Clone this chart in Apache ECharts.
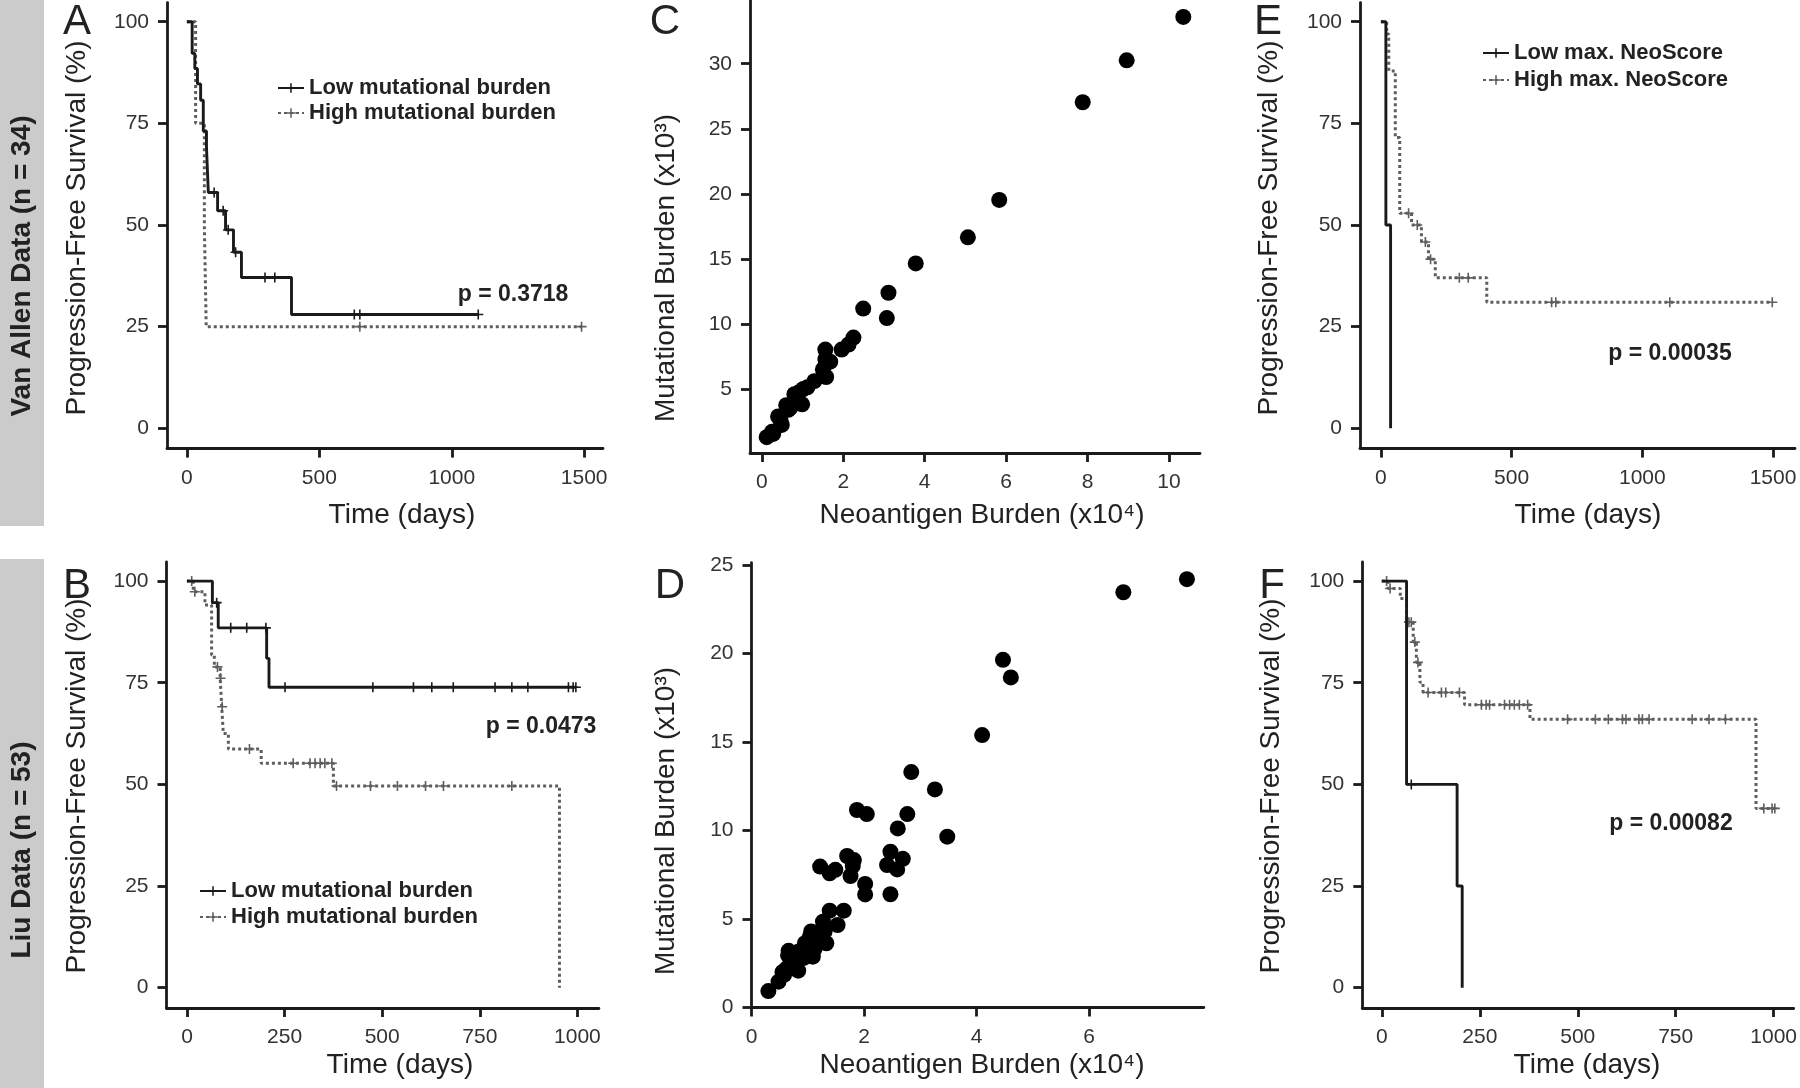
<!DOCTYPE html>
<html><head><meta charset="utf-8">
<script src="https://cdn.jsdelivr.net/npm/echarts@6/dist/echarts.min.js"></script>
<style>html,body{margin:0;padding:0;background:#fff}#c{width:1800px;height:1088px}</style>
</head><body><div id="c"></div>
<script>
// ---------- DATA ----------
// Panel A (Van Allen, mutational burden): KM steps [day, %] and censor marks
const A_low = [[0,100],[20,92.2],[30,88.5],[40,84.7],[52,80.7],[62,73.1],[74,69.3],[81,58.0],[116,53.5],[146,48.8],[176,43.3],[206,37.1],[395,28.0],[1100,28.0]];
const A_lowCens = [[103,58.0],[137,53.5],[156,48.8],[184,43.3],[295,37.1],[332,37.1],[632,28.0],[653,28.0],[1100,28.0]];
const A_high = [[0,100],[33,75],[66,50],[73,25],[1490,25]];
const A_highCens = [[653,25],[1490,25]];
// Panel B (Liu, mutational burden)
const B_low = [[0,100],[65,94.7],[80,88.5],[204,81.0],[210,73.9],[996,73.9]];
const B_lowCens = [[76,94.7],[112,88.5],[153,88.5],[202,88.5],[251,73.9],[476,73.9],[580,73.9],[627,73.9],[682,73.9],[789,73.9],[832,73.9],[873,73.9],[977,73.9],[989,73.9],[996,73.9]];
const B_high = [[0,100],[16,97.4],[46,94.1],[63,81.8],[70,78.9],[85,76.1],[89,69.1],[93,62.5],[106,58.7],[190,55.2],[375,49.6],[954,0]];
const B_highCens = [[12,100],[20,97.4],[78,78.9],[86,76.1],[90,69.1],[160,58.7],[272,55.2],[315,55.2],[328,55.2],[341,55.2],[353,55.2],[371,55.2],[383,49.6],[470,49.6],[539,49.6],[611,49.6],[657,49.6],[832,49.6]];
// Panel C (Van Allen): [neoantigen x10^4, mutational x10^3]
const C_points = [[0.12,1.30],[0.25,1.71],[0.28,1.55],[0.40,2.89],[0.49,2.24],[0.46,2.55],[0.60,3.75],[0.65,3.40],[0.70,3.55],[0.80,4.60],[0.86,4.08],[0.99,3.82],[0.91,4.74],[1.02,5.00],[1.12,5.13],[1.29,5.60],[1.50,6.50],[1.58,5.92],[1.58,6.97],[1.68,7.10],[1.56,7.30],[1.56,8.03],[1.96,8.03],[2.13,8.42],[2.25,8.95],[2.49,11.18],[3.07,10.45],[3.11,12.40],[3.78,14.65],[5.06,16.66],[5.83,19.53],[7.88,27.04],[8.96,30.26],[10.35,33.6]];
// Panel D (Liu)
const D_points = [[0.30,0.93],[0.48,1.46],[0.55,2.00],[0.58,1.85],[0.62,2.20],[0.83,2.08],[0.65,2.95],[0.66,3.20],[0.75,2.60],[0.83,3.15],[0.88,3.00],[0.95,3.63],[1.09,2.87],[0.93,2.80],[1.00,3.40],[1.12,3.30],[1.04,4.00],[1.06,4.30],[1.15,4.09],[1.18,3.90],[1.21,3.70],[1.33,3.63],[1.30,4.30],[1.27,4.85],[1.39,5.47],[1.53,4.66],[1.64,5.47],[1.22,7.96],[1.39,7.58],[1.49,7.78],[1.70,8.56],[1.82,8.33],[1.80,8.00],[1.76,7.43],[1.875,11.16],[2.05,10.93],[2.02,6.98],[2.02,6.39],[2.47,8.80],[2.41,8.05],[2.59,7.80],[2.69,8.40],[2.47,6.40],[2.60,10.12],[2.77,10.93],[3.48,9.65],[2.84,13.30],[3.26,12.32],[4.10,15.39],[4.47,19.64],[4.61,18.65],[6.61,23.46],[7.74,24.20]];
// Panel E (Van Allen, max NeoScore)
const E_low = [[0,100],[19,50],[37,0]];
const E_high = [[0,100],[22,97.0],[30,87.9],[55,71.5],[72,52.9],[117,50.0],[155,45.8],[182,41.6],[208,37.0],[405,31.0],[1497,31.0]];
const E_highCens = [[106,52.9],[139,50.0],[170,45.8],[190,41.6],[300,37.0],[334,37.0],[653,31.0],[669,31.0],[1105,31.0],[1497,31.0]];
// Panel F (Liu, max NeoScore)
const F_low = [[0,100],[63,50],[192,25],[205,0]];
const F_lowCens = [[75,50]];
const F_high = [[0,100],[16,98.2],[47,95.7],[63,89.9],[80,85.0],[88,80.0],[97,75.1],[105,72.6],[211,69.6],[378,66.0],[955,44.1],[1003,44.1]];
const F_highCens = [[12,100],[21,98.2],[69,89.9],[75,89.9],[84,85.0],[92,80.0],[118,72.6],[152,72.6],[163,72.6],[198,72.6],[254,69.6],[266,69.6],[275,69.6],[313,69.6],[326,69.6],[338,69.6],[351,69.6],[372,69.6],[474,66.0],[545,66.0],[578,66.0],[614,66.0],[623,66.0],[656,66.0],[665,66.0],[682,66.0],[792,66.0],[835,66.0],[877,66.0],[975,44.1],[996,44.1],[1003,44.1]];
// Tick labels
const ticksKM_Y = [0,25,50,75,100];
const ticksKM_X1500 = [0,500,1000,1500];
const ticksKM_X1000 = [0,250,500,750,1000];
const ticksC_X = [0,2,4,6,8,10];
const ticksC_Y = [5,10,15,20,25,30];
const ticksD_X = [0,2,4,6];
const ticksD_Y = [0,5,10,15,20,25];
const pValues = ['p = 0.3718','p = 0.0473','p = 0.00035','p = 0.00082'];

// ---------- STYLE ----------
const FONT = '"Liberation Sans", Arial, Helvetica, sans-serif';
const AX = '#1a1a1a', SOLID = '#1a1a1a', DOT = '#5e5e5e';
const PLUS = 'path://M4.2,0H5.8V4.2H10V5.8H5.8V10H4.2V5.8H0V4.2H4.2Z';

function axis(gi, min, max, ticks) {
  return {
    gridIndex: gi, type: 'value', min: min, max: max,
    axisLine: {show: true, onZero: false, lineStyle: {color: AX, width: 2.8}},
    axisTick: {show: true, length: 9, customValues: ticks, lineStyle: {color: AX, width: 2.8}},
    axisLabel: {customValues: ticks, fontSize: 21, color: '#333', margin: 18, fontFamily: FONT,
      formatter: function (v) { return String(v); }},
    splitLine: {show: false}
  };
}
function xaxis(gi, min, max, ticks) { const a = axis(gi, min, max, ticks); a.axisLabel.margin = 19; return a; }

function stepLine(name, gi, data, solid) {
  return {
    name: name, type: 'line', xAxisIndex: gi, yAxisIndex: gi, data: data, step: 'end',
    symbol: PLUS, symbolSize: 9, showSymbol: false, silent: true,
    itemStyle: {color: solid ? SOLID : DOT},
    lineStyle: {color: solid ? SOLID : DOT, width: solid ? 2.9 : 3, type: solid ? 'solid' : [3, 3]}
  };
}
function cens(gi, data, solid) {
  return {
    type: 'scatter', xAxisIndex: gi, yAxisIndex: gi, data: data, symbol: PLUS, symbolSize: 10,
    itemStyle: {color: solid ? SOLID : DOT, opacity: 1}, silent: true
  };
}
function dots(gi, data) {
  return {type: 'scatter', xAxisIndex: gi, yAxisIndex: gi, data: data, symbol: 'circle', symbolSize: 16,
    itemStyle: {color: '#000', opacity: 1}, silent: true};
}
function txt(x, y, s, size, opts) {
  opts = opts || {};
  return {type: 'text', x: x, y: y, rotation: opts.rot || 0, silent: true,
    style: {text: s, fontSize: size, fontFamily: FONT, fontWeight: opts.bold ? 'bold' : 'normal',
      fill: opts.fill || '#222', align: opts.align || 'center', verticalAlign: 'middle'}};
}

const chart = echarts.init(document.getElementById('c'), null, {renderer: 'canvas'});
const R = Math.PI / 2;
const legendText = {fontFamily: FONT, fontWeight: 'bold', fontSize: 22, color: '#222'};

chart.setOption({
  animation: false,
  backgroundColor: '#fff',
  grid: [
    {left: 167, top: 2.6, width: 436, height: 446},      // A
    {left: 166.5, top: 562, width: 432.4, height: 446},  // B
    {left: 750, top: 0, width: 450, height: 453},        // C
    {left: 751.5, top: 562.7, width: 452.3, height: 444.8}, // D
    {left: 1360, top: 2.6, width: 435, height: 446},     // E
    {left: 1362.3, top: 562, width: 432.7, height: 446}  // F
  ],
  xAxis: [
    xaxis(0, -75, 1571, ticksKM_X1500),
    xaxis(1, -52.5, 1055, ticksKM_X1000),
    xaxis(2, -0.29, 10.76, ticksC_X),
    xaxis(3, 0, 8.04, ticksD_X),
    xaxis(4, -80, 1584, ticksKM_X1500),
    xaxis(5, -50, 1051, ticksKM_X1000)
  ],
  yAxis: [
    axis(0, -5, 104.7, ticksKM_Y),
    axis(1, -5, 104.7, ticksKM_Y),
    axis(2, 0.08, 34.9, ticksC_Y),
    axis(3, 0, 25.13, ticksD_Y),
    axis(4, -5, 104.7, ticksKM_Y),
    axis(5, -5, 104.7, ticksKM_Y)
  ],
  legend: [
    {data: ['Low mutational burden', 'High mutational burden'], left: 272, top: 72, orient: 'vertical',
      itemWidth: 26, itemHeight: 12, itemGap: 3, selectedMode: false, textStyle: legendText},
    {data: ['Low mutational burden', 'High mutational burden'], left: 194, top: 875, orient: 'vertical',
      itemWidth: 26, itemHeight: 12, itemGap: 4, selectedMode: false, textStyle: legendText},
    {data: ['Low max. NeoScore', 'High max. NeoScore'], left: 1477, top: 37, orient: 'vertical',
      itemWidth: 26, itemHeight: 12, itemGap: 5, selectedMode: false, textStyle: legendText}
  ],
  series: [
    stepLine('High mutational burden', 0, A_high, false), cens(0, A_highCens, false),
    stepLine('Low mutational burden', 0, A_low, true), cens(0, A_lowCens, true),
    stepLine('High mutational burden', 1, B_high, false), cens(1, B_highCens, false),
    stepLine('Low mutational burden', 1, B_low, true), cens(1, B_lowCens, true),
    dots(2, C_points),
    dots(3, D_points),
    stepLine('High max. NeoScore', 4, E_high, false), cens(4, E_highCens, false),
    stepLine('Low max. NeoScore', 4, E_low, true),
    stepLine('High max. NeoScore', 5, F_high, false), cens(5, F_highCens, false),
    stepLine('Low max. NeoScore', 5, F_low, true), cens(5, F_lowCens, true)
  ],
  graphic: [
    {type: 'rect', shape: {x: 0, y: 0, width: 44, height: 526}, style: {fill: '#cbcbcb'}, silent: true, z: -1},
    {type: 'rect', shape: {x: 0, y: 559, width: 44, height: 529}, style: {fill: '#cbcbcb'}, silent: true, z: -1},
    txt(22, 266, 'Van Allen Data (n = 34)', 28, {bold: true, rot: R}),
    txt(22, 850, 'Liu Data (n = 53)', 28, {bold: true, rot: R}),
    // panel letters
    txt(77, 22, 'A', 42), txt(77, 586, 'B', 42),
    txt(665, 22, 'C', 42), txt(670, 586, 'D', 42),
    txt(1268, 22, 'E', 42), txt(1272, 586, 'F', 42),
    // y titles
    txt(77, 228, 'Progression-Free Survival (%)', 28, {rot: R}),
    txt(77, 786, 'Progression-Free Survival (%)', 28, {rot: R}),
    txt(666, 268, 'Mutational Burden (x10³)', 28, {rot: R}),
    txt(666, 821, 'Mutational Burden (x10³)', 28, {rot: R}),
    txt(1269, 228, 'Progression-Free Survival (%)', 28, {rot: R}),
    txt(1271, 786, 'Progression-Free Survival (%)', 28, {rot: R}),
    // x titles
    txt(402, 515, 'Time (days)', 28), txt(400, 1065, 'Time (days)', 28),
    txt(982, 515, 'Neoantigen Burden (x10⁴)', 28), txt(982, 1065, 'Neoantigen Burden (x10⁴)', 28),
    txt(1588, 515, 'Time (days)', 28), txt(1587, 1065, 'Time (days)', 28),
    // p-values
    txt(513, 295, pValues[0], 23, {bold: true}),
    txt(541, 727, pValues[1], 23, {bold: true}),
    txt(1670, 354, pValues[2], 23, {bold: true}),
    txt(1671, 824, pValues[3], 23, {bold: true})
  ]
});
</script></body></html>
